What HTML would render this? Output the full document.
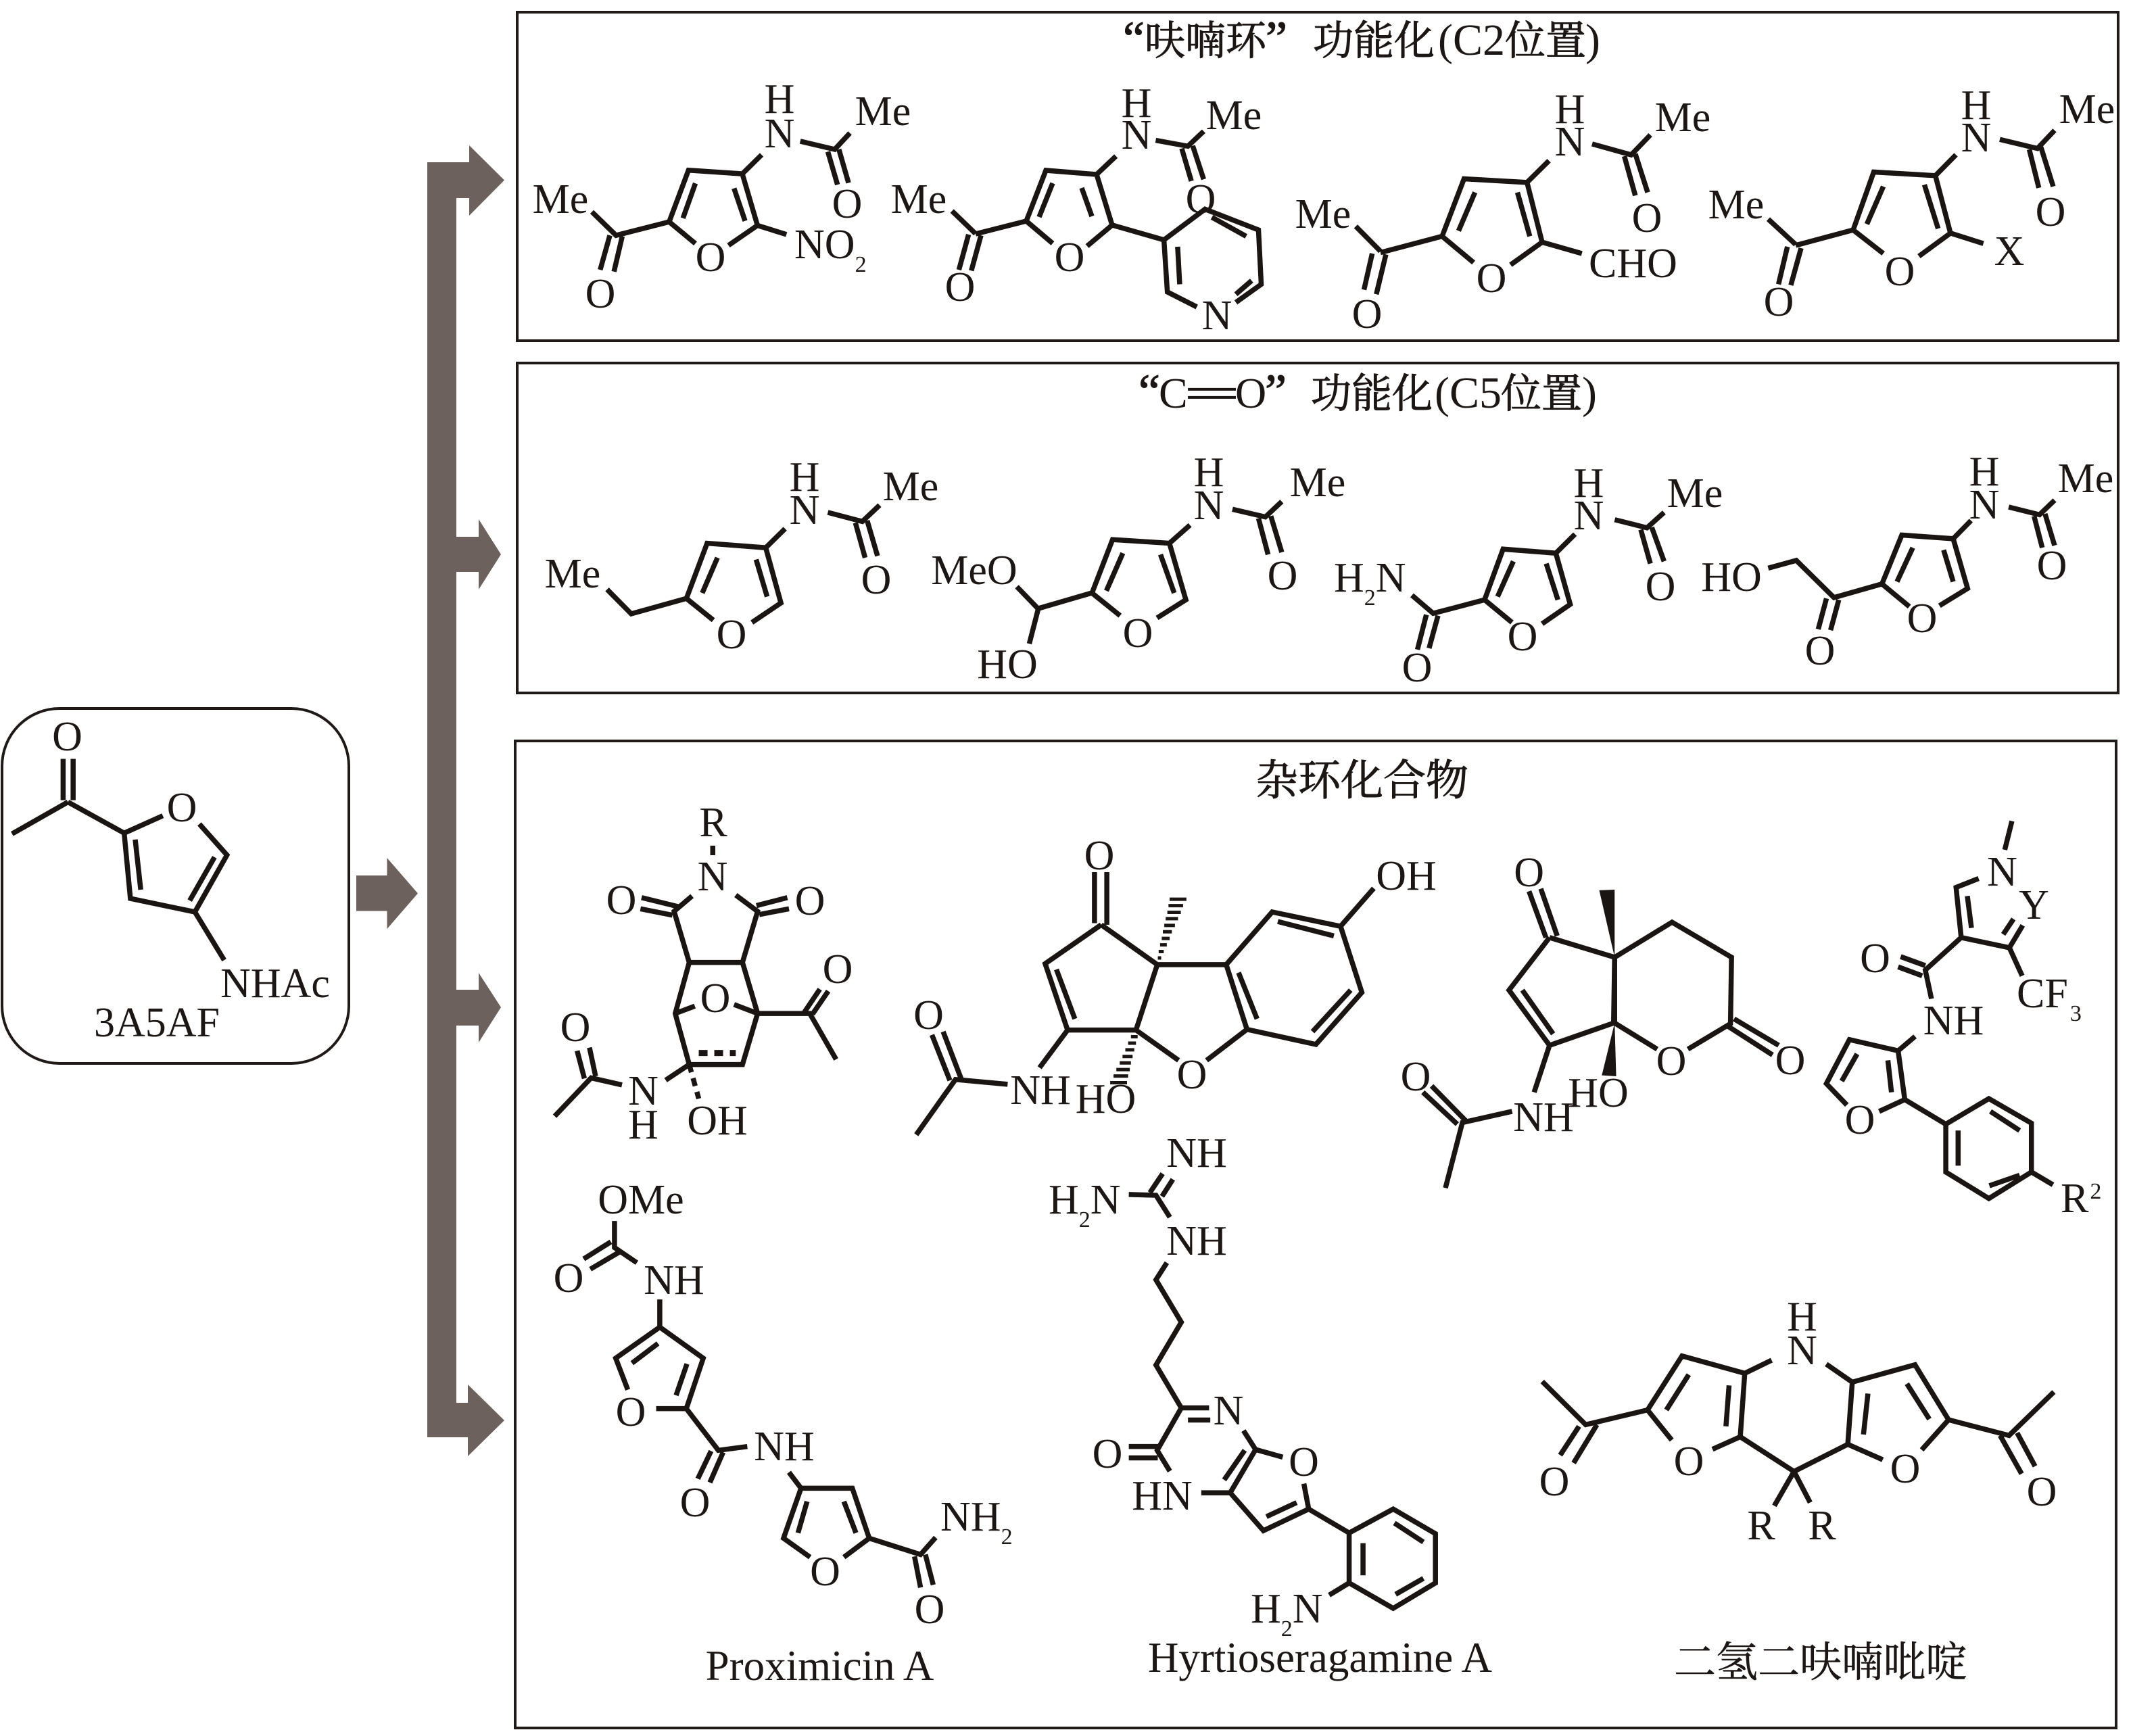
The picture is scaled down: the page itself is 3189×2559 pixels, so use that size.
<!DOCTYPE html>
<html><head><meta charset="utf-8"><style>
html,body{margin:0;padding:0;background:#fff}
svg{display:block}
path,line{vector-effect:non-scaling-stroke}
.m{fill:none;stroke:#1a1412;stroke-width:7.5}
.t text,text.t{font-family:"Liberation Serif","Noto Serif CJK SC",serif;font-size:62px;fill:#1c1715}
.c{text-anchor:middle}
.h{stroke:#1c1715;stroke-width:1}
</style></head><body>
<svg xmlns="http://www.w3.org/2000/svg" width="3189" height="2559" viewBox="0 0 3189 2559">
<rect width="3189" height="2559" fill="#fff"/>
<!-- boxes -->
<g fill="none" stroke="#1f1a18" stroke-width="4">
<rect x="765" y="18" width="2368" height="486"/>
<rect x="765" y="537" width="2368" height="488"/>
<rect x="762" y="1096" width="2368" height="1460"/>
<rect x="3" y="1048" width="513" height="525" rx="85" ry="85"/>
</g>
<!-- arrows -->
<g fill="#6c615d">
<path d="M632 240H694V215L746 266.5L694 319V293H675V2075H692V2048L746 2101L692 2154V2126H632Z"/>
<path d="M674 794H708V768L741 820L708 872V846H674Z"/>
<path d="M674 1464H708V1439L741 1490L708 1542V1517H674Z"/>
<path d="M527 1295H572.5V1269L618 1321.5L572.5 1374V1347.5H527Z"/>
</g>

<!-- zoom1 lines -->
<g class="m" transform="scale(1.0204,0.6696)"><path d="
M970 490L1008 538M1098 498L1056 542M970 490L998 376L1076 384L1098 498M1008 405L990 482M1064 416L1080 488
M970 490L893 520L858 468M884 520L870 596M902 522L890 600M1076 384L1104 342M1160 312L1210 330L1232 294M1200 335L1214 408M1216 330L1230 404M1098 498L1140 518
M880 1302L915 1356L995 1322L1025 1200L1110 1210L1132 1332L1090 1375M995 1322L1034 1370M1040 1232L1018 1310M1096 1236L1112 1318M1110 1210L1138 1168M1200 1132L1250 1152L1275 1116M1240 1155L1254 1232M1257 1150L1272 1228
M1380 466L1414 516M1404 518L1390 596M1422 520L1408 598
M1474 1296L1505 1345L1492 1422"/></g>
<!-- real-px bridges -->
<path class="m" d="M1443 346L1518 327L1547 252L1622 258L1645 333L1608 364M1518 327L1557 360M1557 271L1537 321M1600 278L1615 320M1536 900L1615 877M1983 1370L2032 1314"/>
<!-- zoom2 lines -->
<g class="m" transform="translate(1600,0) scale(1.01339,0.6696)"><path d="
M22 385L50 345M108 310L155 323L178 290M146 328L160 400M162 322L178 396M44 497L120 530L180 462L258 508L262 628L225 668M120 530L125 645L168 678M140 545L143 628M190 480L240 522M225 650L248 620
M400 500L436 555M424 560L412 640M444 562L430 650M436 558L526 522L558 395L650 403L672 535L626 585M526 522L572 580M574 425L550 510M636 425L654 522M672 535L730 560M650 403L682 355M745 318L802 342L830 298M792 345L808 432M808 340L826 425
M1002 484L1042 540M1030 545L1017 628M1050 548L1035 630M1042 542L1126 508L1156 380L1246 388L1268 515L1222 566M1126 508L1170 560M1170 412L1146 495M1230 408L1250 505M1268 515L1316 538M1246 388L1276 342M1340 308L1395 328L1420 288M1383 330L1397 415M1400 325L1418 412
M15 1310L45 1192L128 1200L152 1325L110 1365M15 1310L56 1360M60 1222L36 1305M115 1225L135 1310M128 1200L158 1160M220 1125L268 1142L292 1108M258 1145L272 1225M276 1140L292 1220
M482 1315L513 1355L588 1325L615 1213L692 1222L713 1335L672 1378M503 1358L490 1435M520 1360L507 1432M588 1325L628 1375M630 1240L607 1318M678 1245L695 1325M692 1222L720 1180M778 1148L825 1166L850 1132M816 1170L830 1245M832 1165L850 1240
M1002 1255L1043 1238L1098 1320L1168 1290L1197 1182L1272 1190L1293 1300L1252 1338M1087 1322L1075 1390M1105 1325L1093 1392M1168 1290L1208 1340M1213 1210L1190 1285M1258 1215L1272 1285M1272 1190L1298 1150M1353 1120L1398 1137L1420 1105M1390 1140L1402 1210M1406 1135L1420 1205"/>
<path style="stroke-width:4" d="M155 860H225M155 878H225"/></g>
<!-- zoom3 lines -->
<g class="m" transform="translate(750,1080) scale(0.8291,0.47194)"><path d="
M367 362V392M330 520L298 568L325 728H420L447 568L408 517M240 525L305 553M238 560L295 580M445 550L500 525M450 578L503 560M325 728L300 888L325 1048H420L447 888L420 728M300 888L335 865M447 888L405 860M447 888H540L587 1032M530 885L558 812M545 890L573 818M325 1048L283 1097M205 1112L150 1090L85 1210M138 1092L125 1005M158 1085L147 995
M1048 445V605M1070 445V610M1060 610L960 732L1000 940H1122L1160 735L1060 610M980 750L1013 905M1160 735H1283L1365 570L1487 615L1525 822L1443 985L1320 938L1283 735M1375 600L1475 645M1505 815L1437 945M1305 760L1338 905M1320 938L1248 1035M1122 940L1198 1035M1000 940L950 1058M893 1110L800 1095L730 1268M790 1098L758 955M810 1092L778 945"/>
<path style="stroke-width:9;stroke-dasharray:13 10" d="M342 1012H408"/>
<path style="stroke-dasharray:12 9" d="M325 1048L342 1155"/>
<path style="stroke-width:5" d="M1161 714H1167M1162.500 694H1171.500M1165 673H1177M1168 653H1182M1170 632H1186M1172.500 612H1191.500M1175 591H1197M1178 571H1202M1180 550H1206M1182 530H1212
M1113 961H1125M1108 981H1122M1103 1002H1119M1098 1023H1116M1093 1043H1113M1087 1064H1111M1082 1084H1108M1076 1105H1106"/></g>
<!-- zoom4 lines -->
<g class="m" transform="translate(2000,1080) scale(0.75829,0.47194)"><path d="
M345 505L378 650M368 497L400 645M385 650L306 815L385 988L510 918L512 712L385 650M332 815L392 952M512 712L624 602L740 712L738 920L655 1000M512 918L595 1000M730 925L820 1018M745 905L832 988M385 988L355 1135M312 1195L215 1230L182 1435M205 1235L138 1135M222 1225L155 1115
M512 712V918
M1287 285L1273 375M1222 465L1178 493L1188 650L1282 682L1308 612M1200 520L1208 620M1270 640L1290 592M1282 682L1307 770M1188 650L1118 752L1130 842M1118 738L1070 710M1112 770L1065 742M1098 960L1065 1005L970 970L925 1108L965 1175M1065 1005L1078 1158L1028 1195M985 1015L955 1100M1045 1035L1052 1135M1078 1158L1158 1235L1242 1155L1325 1232V1385L1242 1468L1158 1385V1235M1245 1195L1302 1255M1302 1395L1243 1428M1182 1255V1365M1325 1385L1367 1425"/>
<path d="M512 712L482 502L512 500ZM512 918L487 1082L515 1085Z" style="fill:#1a1412;stroke:none"/></g>
<!-- zoom5 lines -->
<g class="m" transform="translate(750,1680) scale(0.89286,0.56059)"><path d="
M178 225V295L215 335M172 280L127 325M188 305L138 352M253 432V505L180 587L200 670M253 505L325 587L297 720H247M250 548L207 600M298 602L280 685M297 720L350 830L398 820M338 832L316 905M358 835L336 915M467 888L487 930H572L600 1062L558 1112M487 930L458 1062L502 1112M497 965L482 1048M558 965L578 1048M600 1062L685 1105L710 1060M675 1110L685 1192M693 1105L706 1185
M1065 150L1086 100M1085 160L1103 115M1030 155L1075 157L1098 215M1093 335L1075 380L1117 492L1075 605L1117 718H1163M1128 750H1165M1117 718L1077 830L1098 885M1030 820H1078M1030 850H1078M1150 942H1198L1240 828L1220 778M1188 908L1222 830M1240 828L1285 848M1320 918L1328 985L1253 1042L1198 942M1258 1005L1308 968M1328 985L1395 1048L1468 985L1538 1050V1180L1468 1247L1395 1180V1048M1470 1022L1518 1072M1518 1168L1472 1210M1418 1075V1160M1395 1180L1362 1212"/></g>
<!-- zoom6 lines -->
<g class="m" transform="translate(2150,1800) scale(0.66263,0.48406)"><path d="
M198 503L295 635L433 590L510 425L650 478L640 672L578 710M280 640L238 728M320 635L268 752M433 590L487 682M525 482L475 590M615 515L608 640M650 478L710 438M640 672L760 778L880 695M760 778L716 883M760 778L796 873
M832 450L890 505L1030 452L1105 620L1045 712M890 505L880 695L958 742M925 540L915 665M1012 510L1062 618M1105 620L1240 668L1340 535M1220 668L1268 785M1258 660L1298 762"/></g>
<!-- zoom7 lines -->
<g class="m" transform="translate(0,1000) scale(0.5102,0.38265)"><path d="
M183 320V480M212 320V480M197 487L35 610M197 487L360 607L378 860L565 912L658 692L578 572M360 607L472 540M392 632L408 826M622 700L550 868M565 912L650 1098"/></g>

<!-- text -->
<g class="t">
<text y="81" style="font-size:60px"><tspan x="1661" font-size="72" class="h">“</tspan><tspan x="1693" class="h">呋喃环</tspan><tspan x="1872" font-size="72" class="h">”</tspan><tspan x="1942" class="h">功能化</tspan><tspan x="2127" font-size="66">(C2</tspan><tspan x="2226" class="h">位置</tspan><tspan x="2345" font-size="66">)</tspan></text>
<text y="603" style="font-size:60px"><tspan x="1684" font-size="72" class="h">“</tspan><tspan x="1714" font-size="64">C</tspan><tspan x="1827" font-size="64">O</tspan><tspan x="1871" font-size="72" class="h">”</tspan><tspan x="1939" class="h">功能化</tspan><tspan x="2122" font-size="66">(C5</tspan><tspan x="2220" class="h">位置</tspan><tspan x="2340" font-size="66">)</tspan></text>
<text x="1857" y="1176" class="h" style="font-size:63px">杂环化合物</text>

<text x="139" y="1533">3A5AF</text>
<text x="326" y="1475">NHAc</text>
<text class="c" x="99.500" y="1110">O</text>
<text class="c" x="269" y="1215">O</text>

<!-- box 1 -->
<text class="c" x="829" y="315">Me</text><text class="c" x="888" y="455">O</text><text class="c" x="1051" y="401">O</text>
<text class="c" x="1153" y="167">H</text><text class="c" x="1153" y="218">N</text><text class="c" x="1306" y="185">Me</text><text class="c" x="1253" y="322">O</text>
<text x="1175" y="382">NO<tspan font-size="34" dy="20">2</tspan></text>

<text class="c" x="1359" y="315">Me</text><text class="c" x="1420" y="445">O</text><text class="c" x="1582" y="401">O</text>
<text class="c" x="1681" y="173">H</text><text class="c" x="1681" y="220">N</text><text class="c" x="1825" y="191">Me</text><text class="c" x="1776" y="315">O</text><text class="c" x="1800" y="487">N</text>

<text class="c" x="1957" y="337">Me</text><text class="c" x="2022" y="485">O</text><text class="c" x="2206" y="432">O</text>
<text x="2350" y="410">CHO</text><text class="c" x="2322" y="182">H</text><text class="c" x="2322" y="230">N</text><text class="c" x="2489" y="194">Me</text><text class="c" x="2436" y="343">O</text>

<text class="c" x="2568" y="323">Me</text><text class="c" x="2631" y="467">O</text><text class="c" x="2810" y="422">O</text><text class="c" x="2972" y="392">X</text>
<text class="c" x="2923" y="176">H</text><text class="c" x="2923" y="224">N</text><text class="c" x="3087" y="182">Me</text><text class="c" x="3033" y="334">O</text>

<!-- box 2 -->
<text class="c" x="847" y="869">Me</text><text class="c" x="1082" y="959">O</text><text class="c" x="1190" y="726">H</text><text class="c" x="1190" y="775">N</text><text class="c" x="1347" y="740">Me</text><text class="c" x="1296" y="878">O</text>

<text class="c" x="1441" y="864">MeO</text><text class="c" x="1490" y="1003">HO</text><text class="c" x="1683" y="957">O</text><text class="c" x="1788" y="719">H</text><text class="c" x="1788" y="768">N</text><text class="c" x="1949" y="734">Me</text><text class="c" x="1897" y="872">O</text>

<text x="1973" y="875">H<tspan font-size="34" dy="20">2</tspan><tspan dy="-20">N</tspan></text><text class="c" x="2096" y="1008">O</text><text class="c" x="2252" y="962">O</text><text class="c" x="2350" y="735">H</text><text class="c" x="2350" y="783">N</text><text class="c" x="2507" y="750">Me</text><text class="c" x="2456" y="888">O</text>

<text class="c" x="2561" y="874">HO</text><text class="c" x="2692" y="983">O</text><text class="c" x="2843" y="935">O</text><text class="c" x="2935" y="718">H</text><text class="c" x="2935" y="767">N</text><text class="c" x="3085" y="728">Me</text><text class="c" x="3035" y="857">O</text>

<!-- box 3 A -->
<text class="c" x="1055" y="1237">R</text><text class="c" x="1054" y="1317">N</text><text class="c" x="919" y="1352">O</text><text class="c" x="1198" y="1353">O</text><text class="c" x="1058" y="1497">O</text><text class="c" x="1239" y="1454">O</text><text class="c" x="851" y="1540">O</text><text class="c" x="951.500" y="1634">N</text><text class="c" x="951.500" y="1684">H</text><text class="c" x="1061" y="1678">OH</text>
<!-- B -->
<text class="c" x="1626" y="1286">O</text><text class="c" x="1373.500" y="1522">O</text><text class="c" x="1539" y="1633">NH</text><text class="c" x="1635.500" y="1646">HO</text><text class="c" x="1763" y="1610">O</text><text class="c" x="2080" y="1316">OH</text>
<!-- C -->
<text class="c" x="2261.600" y="1311">O</text><text class="c" x="2472" y="1590">O</text><text class="c" x="2648" y="1589">O</text><text class="c" x="2283" y="1673">NH</text><text class="c" x="2364" y="1637">HO</text><text class="c" x="2094" y="1613">O</text>
<!-- D -->
<text class="c" x="2961.500" y="1310">N</text><text class="c" x="3008.500" y="1359">Y</text><text x="2983" y="1490">CF<tspan font-size="34" dy="20" dx="3">3</tspan></text><text class="c" x="2773.500" y="1438">O</text><text class="c" x="2889.500" y="1530">NH</text><text class="c" x="2751" y="1677">O</text><text x="3048" y="1793">R<tspan font-size="34" dy="-20" dx="2">2</tspan></text>
<!-- E -->
<text class="c" x="948" y="1795">OMe</text><text class="c" x="841" y="1911">O</text><text class="c" x="997" y="1914">NH</text><text class="c" x="933" y="2109">O</text><text class="c" x="1028" y="2243">O</text><text class="c" x="1160" y="2160">NH</text><text class="c" x="1220.500" y="2345">O</text><text class="c" x="1375" y="2401">O</text><text x="1391" y="2264">NH<tspan font-size="34" dy="20">2</tspan></text>
<text class="c" x="1212.500" y="2485" style="font-size:63px">Proximicin A</text>
<!-- F -->
<text class="c" x="1770" y="1726">NH</text><text x="1551" y="1795">H<tspan font-size="34" dy="20">2</tspan><tspan dy="-20">N</tspan></text><text class="c" x="1770" y="1856">NH</text><text class="c" x="1817" y="2107">N</text><text class="c" x="1638" y="2171">O</text><text class="c" x="1719" y="2233">HN</text><text class="c" x="1928.500" y="2183">O</text><text x="1850" y="2400">H<tspan font-size="34" dy="20">2</tspan><tspan dy="-20">N</tspan></text>
<text class="c" x="1952.500" y="2473" style="font-size:63px">Hyrtioseragamine A</text>
<!-- G -->
<text class="c" x="2665.500" y="1968">H</text><text class="c" x="2665.500" y="2018">N</text><text class="c" x="2299" y="2212">O</text><text class="c" x="2498" y="2182">O</text><text class="c" x="2605" y="2277">R</text><text class="c" x="2695" y="2277">R</text><text class="c" x="2818" y="2193">O</text><text class="c" x="3020" y="2227">O</text>
<text x="2476" y="2480" class="h" style="font-size:62px;stroke-width:.6">二氢二呋喃吡啶</text>
</g>
</svg>
</body></html>
